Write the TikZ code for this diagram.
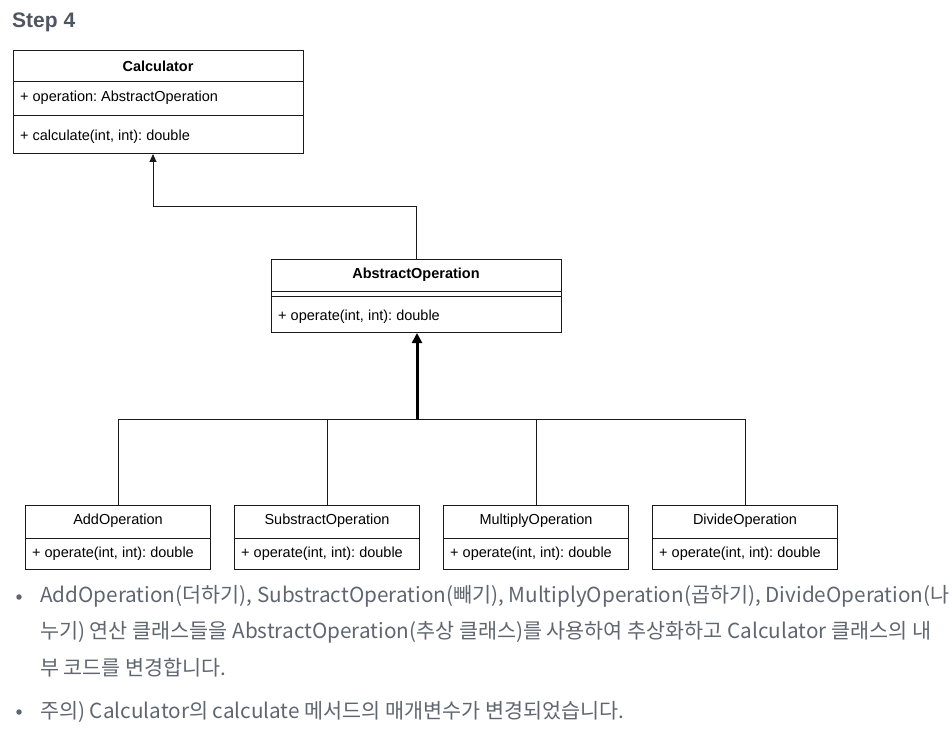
\documentclass[tikz,border=0pt]{standalone}
\usepackage{fontspec}
\setmainfont{Liberation Sans}
\newfontfamily\krfont{Noto Sans CJK KR}
\usetikzlibrary{arrows.meta,calc}
\frenchspacing
\definecolor{steptext}{HTML}{4F5662}
\definecolor{bodytext}{HTML}{5F6670}
\definecolor{linec}{HTML}{1A1A1A}
\tikzset{
  umlbox/.style={draw=linec, line width=1pt, anchor=north west, inner sep=0pt},
  umltitle/.style={font=\fontsize{14.5}{16}\selectfont\bfseries, text=black, inner sep=0pt},
  umlsub/.style={font=\fontsize{14.5}{16}\selectfont, text=black, inner sep=0pt},
  umlmember/.style={font=\fontsize{14.5}{16}\selectfont, text=black, inner sep=0pt, anchor=west},
  divider/.style={draw=linec, line width=1pt},
  assoc/.style={draw=linec, line width=1pt, -{Triangle[length=8pt,width=7pt]}},
  inherit/.style={draw=black, line width=3pt, -{Triangle[length=10pt,width=10pt]}},
  branch/.style={draw=linec, line width=1pt},
  bullettext/.style={font=\krfont\fontsize{20.7}{24}\selectfont, text=bodytext, inner sep=0pt, anchor=west},
  bulletdot/.style={circle, fill=bodytext, minimum size=5.5pt, inner sep=0pt},
}
\begin{document}
\begin{tikzpicture}[x=1pt,y=-1pt]
\useasboundingbox (0,0) rectangle (952,730);
% title
\node[font=\bfseries\fontsize{21}{24}\selectfont, text=steptext, anchor=west, inner sep=0pt] (step) at (12,22) {Step 4};

% Calculator
\node[umlbox, minimum width=290pt, minimum height=103pt] (calc) at (13,50) {};
\node[umltitle] (calct) at (158,66) {Calculator};
\draw[divider] ($(calc.north west)+(0,32)$) -- ($(calc.north east)+(0,32)$);
\draw[divider] ($(calc.north west)+(0,66)$) -- ($(calc.north east)+(0,66)$);
\node[umlmember] (calca) at (20,98) {+ operation: AbstractOperation};
\node[umlmember] (calcm) at (20,137) {+ calculate(int, int): double};

% AbstractOperation
\node[umlbox, minimum width=290pt, minimum height=73pt] (abs) at (271,259) {};
\node[umltitle] (abst) at (416,275) {AbstractOperation};
\draw[divider] ($(abs.north west)+(0,32)$) -- ($(abs.north east)+(0,32)$);
\draw[divider] ($(abs.north west)+(0,37)$) -- ($(abs.north east)+(0,37)$);
\node[umlmember] (absm) at (278,317) {+ operate(int, int): double};

% association arrow
\coordinate (bendA) at (416,206);
\coordinate (bendB) at (153,206);
\draw[assoc] (abs.north -| bendA) -- (bendA) -- (bendB) -- (calc.south -| bendB);

% subclasses
\foreach \nm/\x/\lbl in {add/25/AddOperation, sub/234/SubstractOperation, mul/443/MultiplyOperation, div/652/DivideOperation}{
  \node[umlbox, minimum width=185pt, minimum height=64pt] (\nm) at (\x,505) {};
  \node[umlsub] (\nm t) at ($(\nm.north)+(0,15.5)$) {\lbl};
  \draw[divider] ($(\nm.north west)+(0,33)$) -- ($(\nm.north east)+(0,33)$);
  \node[umlmember] (\nm m) at ($(\nm.north west)+(7,48.5)$) {+ operate(int, int): double};
}
\coordinate (hub) at (417,419);
\draw[branch] (add.north) -- (add.north |- hub) -- (div.north |- hub) -- (div.north);
\draw[branch] (sub.north) -- (sub.north |- hub);
\draw[branch] (mul.north) -- (mul.north |- hub);
\draw[inherit] (hub) -- (abs.south -| hub);

% bullet text
\node[bulletdot] (b1) at (19,597) {};
\node[bullettext] (l1) at (40,596) {AddOperation(더하기), SubstractOperation(빼기), MultiplyOperation(곱하기), DivideOperation(나};
\node[bullettext] (l2) at (40,632) {누기) 연산 클래스들을 AbstractOperation(추상 클래스)를 사용하여 추상화하고 Calculator 클래스의 내};
\node[bullettext] (l3) at (40,668) {부 코드를 변경합니다.};
\node[bulletdot] (b2) at (19,712) {};
\node[bullettext] (l4) at (40,712) {주의) Calculator의 calculate 메서드의 매개변수가 변경되었습니다.};
\end{tikzpicture}
\end{document}
